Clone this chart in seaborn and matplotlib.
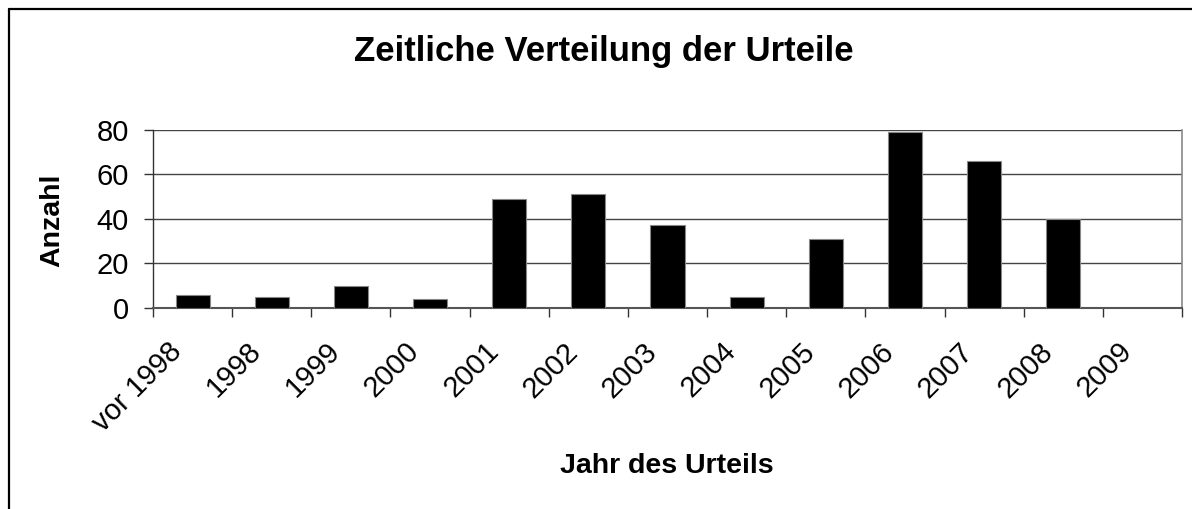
import matplotlib
matplotlib.use("Agg")
import matplotlib.pyplot as plt
import seaborn as sns
import pandas as pd
from matplotlib.lines import Line2D
from matplotlib.ticker import FixedLocator
from matplotlib.transforms import ScaledTranslation

categories = ["vor 1998", "1998", "1999", "2000", "2001", "2002", "2003",
              "2004", "2005", "2006", "2007", "2008", "2009"]
values = [6, 5, 10, 4, 49, 51, 37, 5, 31, 79, 66, 40, 0]
y_ticks = [0, 20, 40, 60, 80]

title = "Zeitliche Verteilung der Urteile"
xlabel = "Jahr des Urteils"
ylabel = "Anzahl"

sns.set_style("white")
plt.rcParams["font.family"] = ["Liberation Sans", "DejaVu Sans"]
plt.rcParams["text.color"] = "black"
plt.rcParams["axes.labelcolor"] = "black"
plt.rcParams["xtick.labelcolor"] = "black"
plt.rcParams["ytick.labelcolor"] = "black"

W, H = 1192, 509
fig = plt.figure(figsize=(W / 100, H / 100), dpi=100)
ax = fig.add_axes([153 / W, 1 - 308 / H, (1182 - 153) / W, (308 - 129.5) / H])

df = pd.DataFrame({"cat": categories, "val": values})
sns.barplot(data=df, x="cat", y="val", color="black", width=0.43,
            edgecolor="#888888", linewidth=0.8, saturation=1, ax=ax, zorder=3)

ax.set_xlim(-0.5, len(categories) - 0.5)
ax.set_ylim(0, 80)
ax.set_yticks(y_ticks)
ax.yaxis.grid(True, color="#444444", linewidth=1.0, zorder=0)
ax.xaxis.grid(False)

ax.spines["top"].set_visible(False)
ax.spines["right"].set_visible(True)
ax.spines["right"].set_color("#888888")
ax.spines["right"].set_linewidth(1.2)
ax.spines["left"].set_color("#333333")
ax.spines["left"].set_linewidth(1.0)
ax.spines["bottom"].set_color("#555555")
ax.spines["bottom"].set_linewidth(1.5)

ax.tick_params(axis="y", which="major", direction="out", length=6.5, width=1,
               color="#333333", pad=11, labelsize=21, left=True, labelcolor="black")
ax.tick_params(axis="x", which="major", length=0, pad=21, labelsize=21, bottom=True,
               labelcolor="black")
ax.xaxis.set_minor_locator(FixedLocator([i - 0.5 for i in range(len(categories) + 1)]))
ax.tick_params(axis="x", which="minor", direction="out", length=6.5, width=1,
               color="#333333", bottom=True)

shift = ScaledTranslation(-25 / 100, 0, fig.dpi_scale_trans)
for lab in ax.get_xticklabels():
    lab.set_rotation(45)
    lab.set_ha("right")
    lab.set_va("top")
    lab.set_rotation_mode("anchor")
    lab.set_transform(lab.get_transform() + shift)

ax.set_xlabel(xlabel, fontsize=20.5, fontweight="bold")
ax.set_ylabel(ylabel, fontsize=20.5, fontweight="bold")
ax.xaxis.set_label_coords((667 - 153) / (1182 - 153), (308 - 466) / (308 - 129.5))
ax.yaxis.set_label_coords((52 - 153) / (1182 - 153), 0.49)
ax.xaxis.label.set_va("center")
ax.yaxis.label.set_va("center")

fig.text(604 / W, 1 - 52 / H, title, fontsize=25, fontweight="bold",
         ha="center", va="center")

fig.add_artist(Line2D([8.5 / W, 8.5 / W], [0, 1 - 8.5 / H], transform=fig.transFigure,
                      color="black", linewidth=1.6))
fig.add_artist(Line2D([8.5 / W, 1], [1 - 8.5 / H, 1 - 8.5 / H], transform=fig.transFigure,
                      color="black", linewidth=1.6))

fig.savefig("out.png", dpi=100, facecolor="white")
